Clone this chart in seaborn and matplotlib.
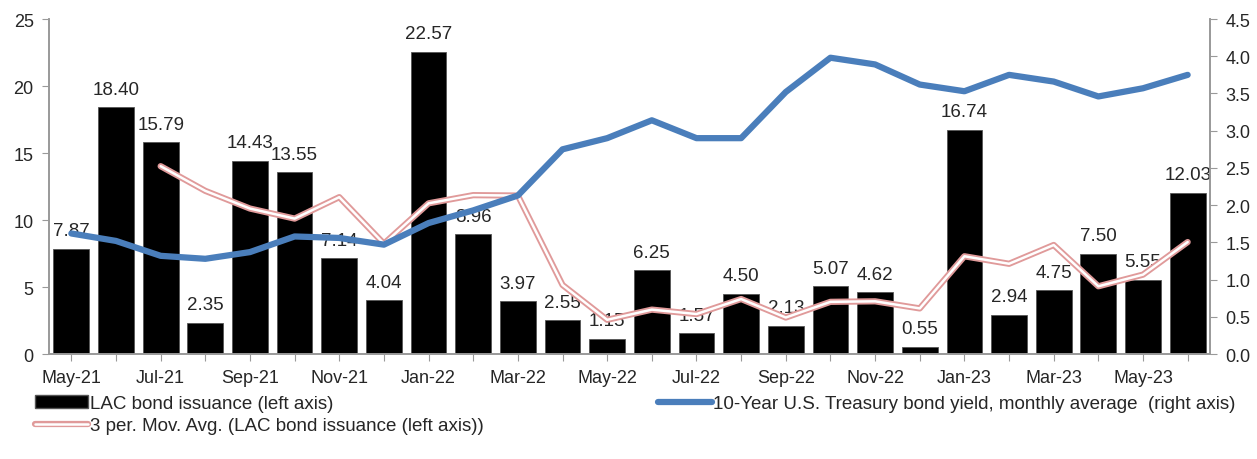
import numpy as np
import pandas as pd
import matplotlib
matplotlib.use("Agg")
import matplotlib.pyplot as plt
import seaborn as sns
from matplotlib.ticker import FormatStrFormatter
from matplotlib.patches import Patch
from matplotlib.lines import Line2D

# -- Données
months = ["May-21", "Jun-21", "Jul-21", "Aug-21", "Sep-21", "Oct-21", "Nov-21", "Dec-21",
          "Jan-22", "Feb-22", "Mar-22", "Apr-22", "May-22", "Jun-22", "Jul-22", "Aug-22",
          "Sep-22", "Oct-22", "Nov-22", "Dec-22", "Jan-23", "Feb-23", "Mar-23", "Apr-23",
          "May-23", "Jun-23"]
issuance = [7.87, 18.40, 15.79, 2.35, 14.43, 13.55, 7.14, 4.04,
            22.57, 8.96, 3.97, 2.55, 1.15, 6.25, 1.57, 4.50,
            2.13, 5.07, 4.62, 0.55, 16.74, 2.94, 4.75, 7.50,
            5.55, 12.03]
mov_avg = [np.nan, np.nan, 14.02, 12.18, 10.86, 10.11, 11.71, 8.24,
           11.25, 11.86, 11.83, 5.16, 2.56, 3.32, 2.99, 4.11,
           2.73, 3.90, 3.94, 3.41, 7.30, 6.74, 8.14, 5.06,
           5.93, 8.36]
treasury = [1.62, 1.52, 1.32, 1.28, 1.37, 1.58, 1.56, 1.47,
            1.76, 1.93, 2.13, 2.75, 2.90, 3.14, 2.90, 2.90,
            3.52, 3.98, 3.89, 3.62, 3.53, 3.75, 3.66, 3.46,
            3.57, 3.75]

df = pd.DataFrame({"month": months, "issuance": issuance,
                   "mov_avg": mov_avg, "treasury": treasury})
df["pos"] = np.arange(len(df))

sns.set_style("white")
plt.rcParams["font.family"] = ["Liberation Sans", "DejaVu Sans"]
plt.rcParams["font.size"] = 13

fig = plt.figure(figsize=(12.57, 4.6), dpi=100)
ax = fig.add_axes([0.039, 0.228, 0.9236, 0.7285])

# -- Barres
sns.barplot(data=df, x="month", y="issuance", color="black", width=0.8,
            edgecolor="#555555", linewidth=0.6, saturation=1, ax=ax)
for p, v in zip(df["pos"], df["issuance"]):
    ax.text(p, v + 0.7, f"{v:.2f}", ha="center", va="bottom", fontsize=13.5)

# -- Moyenne mobile (double trait)
ax.plot(df["pos"], df["mov_avg"], color="#e09a9a", lw=4.5, zorder=3)
ax.plot(df["pos"], df["mov_avg"], color="white", lw=1.8, zorder=4)

ax.set_xlim(-0.5, len(df) - 0.5)
ax.set_ylim(0, 25)
ax.set_yticks([0, 5, 10, 15, 20, 25])
ax.set_xticks(df["pos"])
ax.set_xticklabels([m if i % 2 == 0 else "" for i, m in enumerate(months)])
ax.set_xlabel("")
ax.set_ylabel("")

# -- Axe droit : taux US 10 ans
ax2 = ax.twinx()
sns.lineplot(x=df["pos"], y=df["treasury"], color="#4a7ebb", lw=4.5, ax=ax2)
ax2.set_ylim(0, 4.5)
ax2.set_yticks(np.arange(0, 4.51, 0.5))
ax2.yaxis.set_major_formatter(FormatStrFormatter("%.1f"))
ax2.set_ylabel("")
ax2.set_xlim(-0.5, len(df) - 0.5)

for a in (ax, ax2):
    a.spines["top"].set_visible(False)
    for s in ["left", "right", "bottom"]:
        a.spines[s].set_color("#999999")
        a.spines[s].set_linewidth(1.2)
    a.tick_params(axis="both", length=5, color="#999999", labelsize=13, direction="out")
ax.tick_params(axis="y", left=True, pad=6)
ax.tick_params(axis="x", bottom=True, pad=6)
ax2.tick_params(axis="y", right=True, pad=6)

# -- Légende
h_bar = Patch(facecolor="black", edgecolor="#555555")
h_ma = (Line2D([], [], color="#e09a9a", lw=4.5), Line2D([], [], color="white", lw=1.8))
h_us = Line2D([], [], color="#4a7ebb", lw=4.5)
fig.legend([h_bar, h_ma, h_us],
           ["LAC bond issuance (left axis)",
            "3 per. Mov. Avg. (LAC bond issuance (left axis))",
            "10-Year U.S. Treasury bond yield, monthly average  (right axis)"],
           ncol=2, loc="upper left", bbox_to_anchor=(0.0216, 0.155), frameon=False,
           fontsize=13.5, handlelength=2.85, handletextpad=0.1, columnspacing=9.3,
           labelspacing=0.25, borderaxespad=0)

fig.savefig("out.png", dpi=100)
